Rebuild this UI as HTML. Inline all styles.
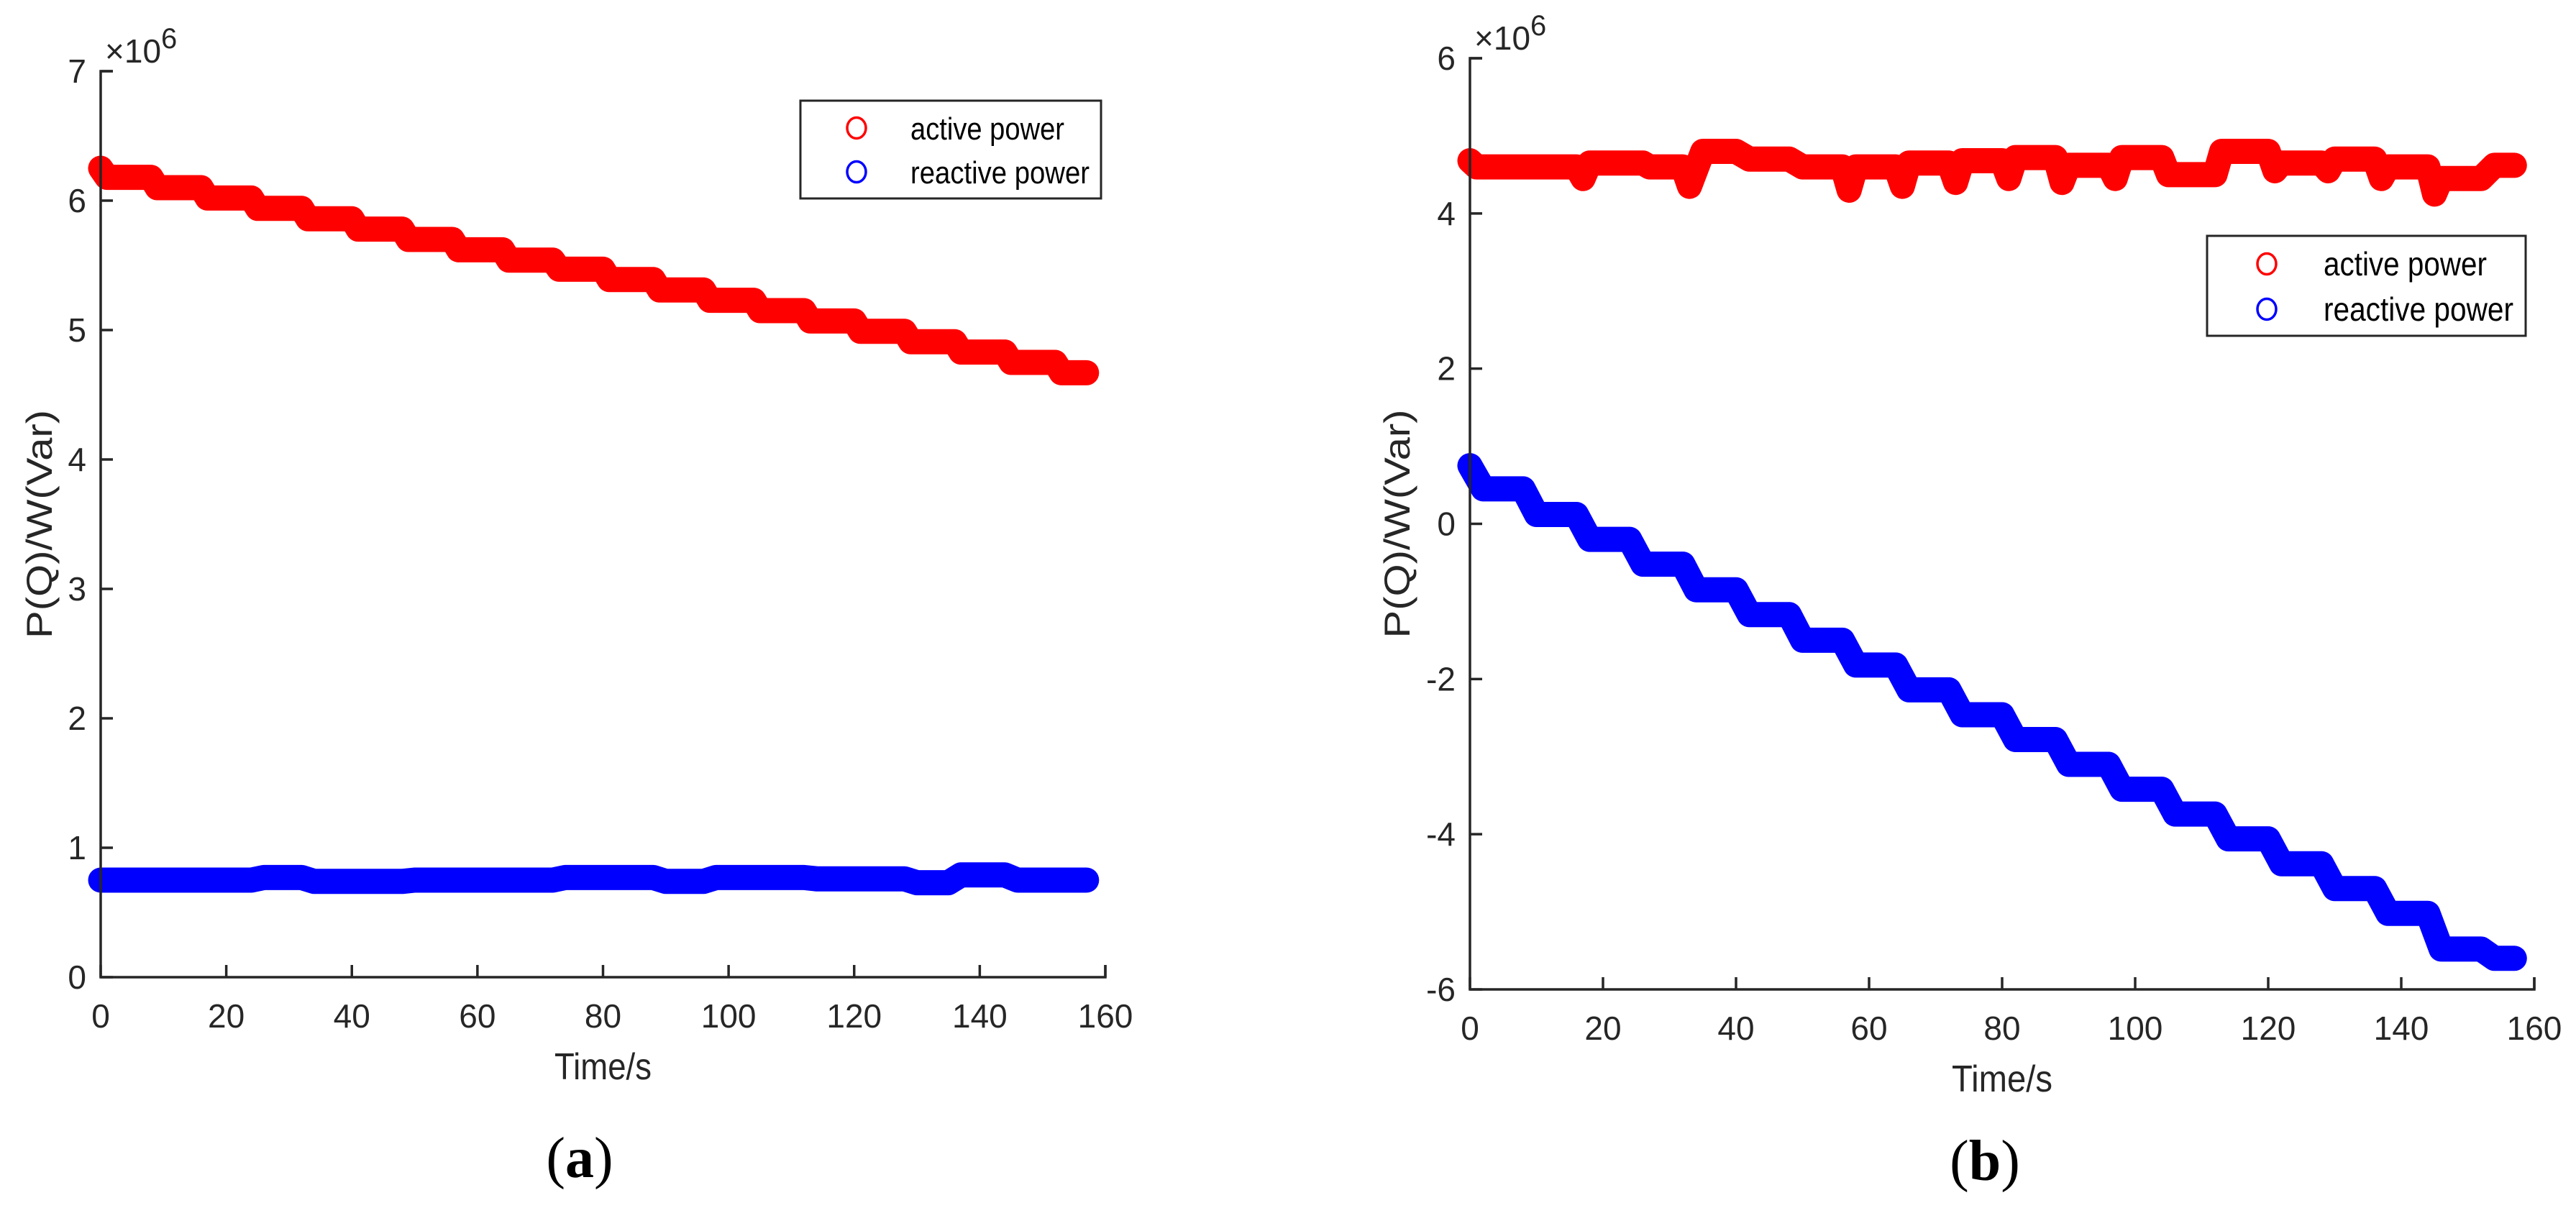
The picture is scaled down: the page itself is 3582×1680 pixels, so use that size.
<!DOCTYPE html>
<html><head><meta charset="utf-8"><style>
html,body{margin:0;padding:0;background:#fff;}
svg{display:block;}
text{font-family:"Liberation Sans",Arial,sans-serif;fill:#262626;}
</style></head>
<body>
<svg id="fig" width="3582" height="1680" viewBox="0 0 3582 1680" xmlns="http://www.w3.org/2000/svg">
<g id="panelA"></g>
<g id="panelB"></g>
<text x="806" y="1637" text-anchor="middle" style="font-family:'Liberation Serif',serif;font-size:80px;fill:#000">(<tspan font-weight="bold">a</tspan>)</text>
<text x="2760" y="1641" text-anchor="middle" style="font-family:'Liberation Serif',serif;font-size:80px;fill:#000">(<tspan font-weight="bold">b</tspan>)</text>
</svg>
<script>
// ---- Panel (a) data ----
const xTicksA = [0,20,40,60,80,100,120,140,160];
const yTicksA = [0,1,2,3,4,5,6,7];
const activeTimeA = [0,1,8,9,16,17,24,25,32,33,40,41,48,49,56,57,64,65,72,73,80,81,88,89,96,97,104,105,112,113,120,121,128,129,136,137,144,145,152,153,157];
const activeValA  = [6.25,6.18,6.18,6.10,6.10,6.02,6.02,5.94,5.94,5.86,5.86,5.78,5.78,5.70,5.70,5.62,5.62,5.54,5.54,5.47,5.47,5.39,5.39,5.31,5.31,5.23,5.23,5.15,5.15,5.07,5.07,4.99,4.99,4.91,4.91,4.83,4.83,4.75,4.75,4.67,4.67];
const reactTimeA = [0,24,26,32,34,48,50,72,74,88,90,96,98,112,114,128,130,135,137,144,146,157];
const reactValA  = [0.75,0.75,0.77,0.77,0.74,0.74,0.75,0.75,0.77,0.77,0.74,0.74,0.77,0.77,0.76,0.76,0.73,0.73,0.79,0.79,0.75,0.75];

// ---- Panel (b) data ----
const xTicksB = [0,20,40,60,80,100,120,140,160];
const yTicksB = [-6,-4,-2,0,2,4,6];
const activeTimeB = [0,1,16,17,18,26,27,32,33,35,40,42,48,50,56,57,58,64,65,66,72,73,74,80,81,82,88,89,90,96,97,98,104,105,112,113,120,121,122,128,129,130,136,137,138,144,145,146,152,154,157];
const activeValB  = [4.68,4.6,4.6,4.45,4.65,4.65,4.6,4.6,4.35,4.8,4.8,4.7,4.7,4.6,4.6,4.3,4.6,4.6,4.35,4.65,4.65,4.4,4.68,4.68,4.45,4.72,4.72,4.4,4.62,4.62,4.45,4.72,4.72,4.5,4.5,4.8,4.8,4.55,4.65,4.65,4.55,4.7,4.7,4.45,4.6,4.6,4.25,4.45,4.45,4.62,4.62];
const reactTimeB = [0,2,8,10,16,18,24,26,32,34,40,42,48,50,56,58,64,66,72,74,80,82,88,90,96,98,104,106,112,114,120,122,128,130,136,138,144,146,152,154,157];
const reactValB  = [0.75,0.45,0.45,0.12,0.12,-0.2,-0.2,-0.52,-0.52,-0.85,-0.85,-1.17,-1.17,-1.5,-1.5,-1.82,-1.82,-2.14,-2.14,-2.46,-2.46,-2.78,-2.78,-3.1,-3.1,-3.42,-3.42,-3.74,-3.74,-4.06,-4.06,-4.38,-4.38,-4.7,-4.7,-5.02,-5.02,-5.48,-5.48,-5.6,-5.6];

const NS = 'http://www.w3.org/2000/svg';
function mk(parent, tag, attrs){
  const e = document.createElementNS(NS, tag);
  for (const k in attrs) e.setAttribute(k, attrs[k]);
  parent.appendChild(e);
  return e;
}

function drawPanel(g, cfg){
  const {x0,x1,y0,y1,xmin,xmax,ymin,ymax,xTicks,yTicks,series,legend,ylabelX,prefix,xtW} = cfg;
  const sx = v => x0 + (v - xmin) / (xmax - xmin) * (x1 - x0);
  const sy = v => y0 - (v - ymin) / (ymax - ymin) * (y0 - y1);

  series.forEach(s => {
    let d = '';
    s.t.forEach((t,i) => { d += (i ? 'L' : 'M') + sx(t).toFixed(1) + ' ' + sy(s.v[i]).toFixed(1); });
    const p = mk(g, 'path', {d: d, fill:'none', stroke:s.color, 'stroke-width':35, 'stroke-linecap':'round', 'stroke-linejoin':'round'});
    
    
  });

  const ax = mk(g, 'path', {d:`M${x0+17} ${y1}H${x0}V${y0}H${x1}V${y0-17}`, fill:'none', stroke:'#262626', 'stroke-width':3.5});
  
  

  xTicks.forEach(t => {
    const x = sx(t);
    const tk = mk(g, 'line', {x1:x, x2:x, y1:y0, y2:y0-17, stroke:'#262626', 'stroke-width':3.5});
    
    
    const lb = mk(g, 'text', {x:x, y:y0+70, 'text-anchor':'middle', 'font-size':46});
    lb.textContent = t;
    
    
  });
  yTicks.forEach(t => {
    const y = sy(t);
    const tk = mk(g, 'line', {x1:x0, x2:x0+17, y1:y, y2:y, stroke:'#262626', 'stroke-width':3.5});
    
    
    const lb = mk(g, 'text', {x:x0-20, y:y+16, 'text-anchor':'end', 'font-size':46});
    lb.textContent = t;
    
    
  });

  const ex = mk(g, 'text', {x:x0+6, y:y1-12, 'font-size':46});
  ex.innerHTML = '×10<tspan dy="-20" font-size="40">6</tspan>';
  
  

  const xl = mk(g, 'text', {x:(x0+x1)/2, y:y0+142, 'text-anchor':'middle', 'font-size':52, textLength:xtW, lengthAdjust:'spacingAndGlyphs'});
  xl.textContent = 'Time/s';
  
  
  const ym = (y0+y1)/2;
  const yl = mk(g, 'text', {x:ylabelX, y:ym, 'text-anchor':'middle', 'font-size':50, textLength:318, lengthAdjust:'spacingAndGlyphs', transform:`rotate(-90 ${ylabelX} ${ym})`});
  yl.textContent = 'P(Q)/W(Var)';
  
  

  const L = legend;
  const lg = mk(g, 'g', {});
  
  
  mk(lg, 'rect', {x:L.x, y:L.y, width:L.w, height:L.h, fill:'#fff', stroke:'#262626', 'stroke-width':3});
  series.forEach((s,i) => {
    const cy = L.y + L.r0 + i*L.dy;
    const c = mk(lg, 'ellipse', {cx:L.mx, cy:cy, rx:13, ry:14.5, fill:'none', stroke:s.color, 'stroke-width':3.5});
    
    
    const t = mk(lg, 'text', {x:L.tx, y:cy+16, 'font-size':L.fs, style:'fill:#000', textLength:L.tw[i], lengthAdjust:'spacingAndGlyphs'});
    t.textContent = s.label;
    
    
  });
}

drawPanel(document.getElementById('panelA'), {
  prefix:'panel-a', x0:140, x1:1537, y0:1359, y1:99, xmin:0, xmax:160, ymin:0, ymax:7,
  xTicks:xTicksA, yTicks:yTicksA, ylabelX:72, xtW:135,
  series:[
    {t:activeTimeA, v:activeValA, color:'#ff0000', name:'active-power-series-a', key:'active', label:'active power'},
    {t:reactTimeA, v:reactValA, color:'#0000ff', name:'reactive-power-series-a', key:'reactive', label:'reactive power'}
  ],
  legend:{x:1113, y:140, w:418, h:136, mx:1191, tx:1266, r0:38, dy:61, fs:44, tw:[214,249]}
});
drawPanel(document.getElementById('panelB'), {
  prefix:'panel-b', x0:2044, x1:3524, y0:1376, y1:81, xmin:0, xmax:160, ymin:-6, ymax:6,
  xTicks:xTicksB, yTicks:yTicksB, ylabelX:1960, xtW:140,
  series:[
    {t:activeTimeB, v:activeValB, color:'#ff0000', name:'active-power-series-b', key:'active', label:'active power'},
    {t:reactTimeB, v:reactValB, color:'#0000ff', name:'reactive-power-series-b', key:'reactive', label:'reactive power'}
  ],
  legend:{x:3069, y:328, w:443, h:139, mx:3152, tx:3231, r0:39, dy:63, fs:46, tw:[227,264]}
});
</script>
</body></html>
